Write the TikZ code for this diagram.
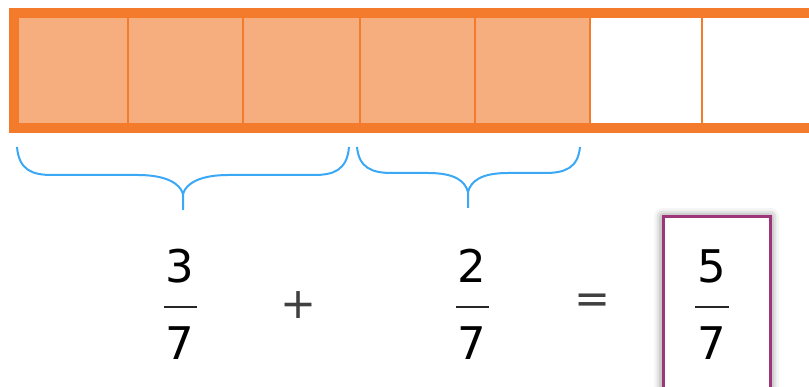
\documentclass[tikz,border=0pt]{standalone}
\usepackage{fontspec}
\setmainfont{DejaVu Sans}
\usetikzlibrary{shadows.blur}
\definecolor{barorange}{RGB}{244,123,44}
\definecolor{cellfill}{RGB}{247,174,126}
\definecolor{braceblue}{RGB}{58,168,245}
\definecolor{boxpurple}{RGB}{158,52,122}
\begin{document}
\begin{tikzpicture}[x=1pt,y=-1pt,
  digit/.style={font=\fontsize{45}{54}\selectfont, inner sep=0pt, anchor=base, text=black},
  opsign/.style={font=\fontsize{43}{52}\selectfont, inner sep=0pt, text=black!75},
  fracbar/.style={line width=2pt, black!85},
  bracestyle/.style={draw=braceblue, line width=2pt},
  divider/.style={draw=barorange, line width=2.5pt},
  resultbox/.style={draw=boxpurple, line width=3pt, fill=white,
    blur shadow={shadow xshift=0pt, shadow yshift=0pt, shadow blur radius=9pt, shadow opacity=60}}]
\useasboundingbox (0,0) rectangle (809,387);
% bar
\fill[cellfill] (14,13) rectangle (590,128);
\foreach \x in {128,243,360,475,590,702} \draw[divider] (\x,13) -- (\x,128);
\draw[barorange, line width=10pt] (14,13) rectangle (820,128);
% braces
\draw[bracestyle] (17,147) .. controls (19,170) and (32,175) .. (52,175) -- (138,175)
  .. controls (165,175) and (180,183) .. (183,194) -- (183,210);
\draw[bracestyle] (349,147) .. controls (347,170) and (334,175) .. (314,175) -- (228,175)
  .. controls (201,175) and (186,183) .. (183,194);
\draw[bracestyle] (357,147) .. controls (359,168) and (372,173) .. (392,173) -- (428,173)
  .. controls (455,173) and (465,181) .. (468,192) -- (468,208);
\draw[bracestyle] (580,147) .. controls (578,168) and (565,173) .. (545,173) -- (508,173)
  .. controls (481,173) and (471,181) .. (468,192);
% result box
\path[resultbox] (663,217) rectangle (770,400);
% fractions
\node[digit] (n1) at (180,283) {3};
\node[digit] (d1) at (180,360) {7};
\draw[fracbar] (164,307) -- (197,307);
\node[opsign] (plus) at (299,305) {+};
\node[digit] (n2) at (472,283) {2};
\node[digit] (d2) at (472,360) {7};
\draw[fracbar] (456,307) -- (489,307);
\node[opsign] (eq) at (593,304) {=};
\node[digit] (n3) at (712,283) {5};
\node[digit] (d3) at (712,360) {7};
\draw[fracbar] (695,307) -- (729,307);
\end{tikzpicture}
\end{document}
